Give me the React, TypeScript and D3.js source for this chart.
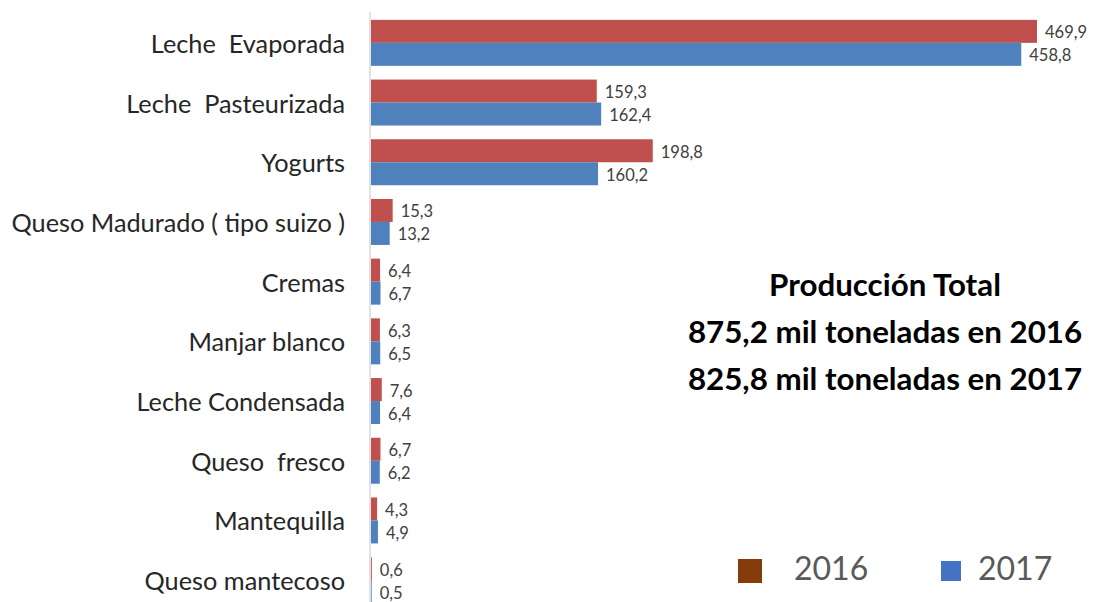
import React from "react";
import * as d3 from "d3";

const categories = [
  "Leche  Evaporada",
  "Leche  Pasteurizada",
  "Yogurts",
  "Queso Madurado ( tipo suizo )",
  "Cremas",
  "Manjar blanco",
  "Leche Condensada",
  "Queso  fresco",
  "Mantequilla",
  "Queso mantecoso",
];
const values2016 = [469.9, 159.3, 198.8, 15.3, 6.4, 6.3, 7.6, 6.7, 4.3, 0.6];
const values2017 = [458.8, 162.4, 160.2, 13.2, 6.7, 6.5, 6.4, 6.2, 4.9, 0.5];
const seriesNames = ["2016", "2017"];
const totalLines = [
  "Producción Total",
  "875,2 mil toneladas en 2016",
  "825,8 mil toneladas en 2017",
];

const W = 1097;
const H = 602;
const FONT = "Lato, 'Open Sans', sans-serif";

export default function App() {
  const x0 = 371;
  const x = d3.scaleLinear().domain([0, 469.9]).range([x0, 1037]);
  const y = d3
    .scaleBand<string>()
    .domain(categories)
    .range([13, 610])
    .paddingInner(0.23)
    .paddingOuter(0.115);
  const bh = y.bandwidth() / 2;
  const fmt = (v: number) => v.toFixed(1).replace(".", ",");
  const barColors = ["#C0504D", "#4F81BD"];
  const legendColors = ["#843C0C", "#4472C4"];
  const series = [values2016, values2017];

  return (
    <svg
      width={W}
      height={H}
      style={{ position: "absolute", left: 0, top: 0, background: "#fff" }}
      fontFamily={FONT}
    >
      <line x1={370} x2={370} y1={12} y2={602} stroke="#D9D9D9" strokeWidth={1.5} />
      {categories.map((c, i) => {
        const yb = y(c)!;
        return (
          <g key={c}>
            <text
              x={345}
              y={yb + y.bandwidth() / 2}
              textAnchor="end"
              dominantBaseline="central"
              fontSize={25.3}
              fill="#262626"
              xmlSpace="preserve"
              style={{ whiteSpace: "pre" }}
            >
              {c}
            </text>
            {series.map((s, k) => (
              <g key={k}>
                <rect
                  x={x0}
                  y={yb + k * bh}
                  width={Math.max(0, x(s[i]) - x0)}
                  height={bh}
                  fill={barColors[k]}
                />
                <text
                  x={x(s[i]) + 8}
                  y={yb + k * bh + bh / 2 + 1}
                  dominantBaseline="central"
                  fontSize={16.5}
                  fill="#404040"
                >
                  {fmt(s[i])}
                </text>
              </g>
            ))}
          </g>
        );
      })}
      {totalLines.map((t, i) => (
        <text
          key={i}
          x={885}
          y={296 + i * 47}
          textAnchor="middle"
          fontSize={31.3}
          fontWeight="bold"
          fill="#000"
        >
          {t}
        </text>
      ))}
      {seriesNames.map((n, k) => {
        const lx = k === 0 ? 738 : 941;
        const size = k === 0 ? 24 : 20;
        return (
          <g key={n}>
            <rect x={lx} y={571 - size / 2} width={size} height={size} fill={legendColors[k]} />
            <text x={k === 0 ? 794 : 978} y={580} fontSize={32} fill="#595959">
              {n}
            </text>
          </g>
        );
      })}
    </svg>
  );
}
